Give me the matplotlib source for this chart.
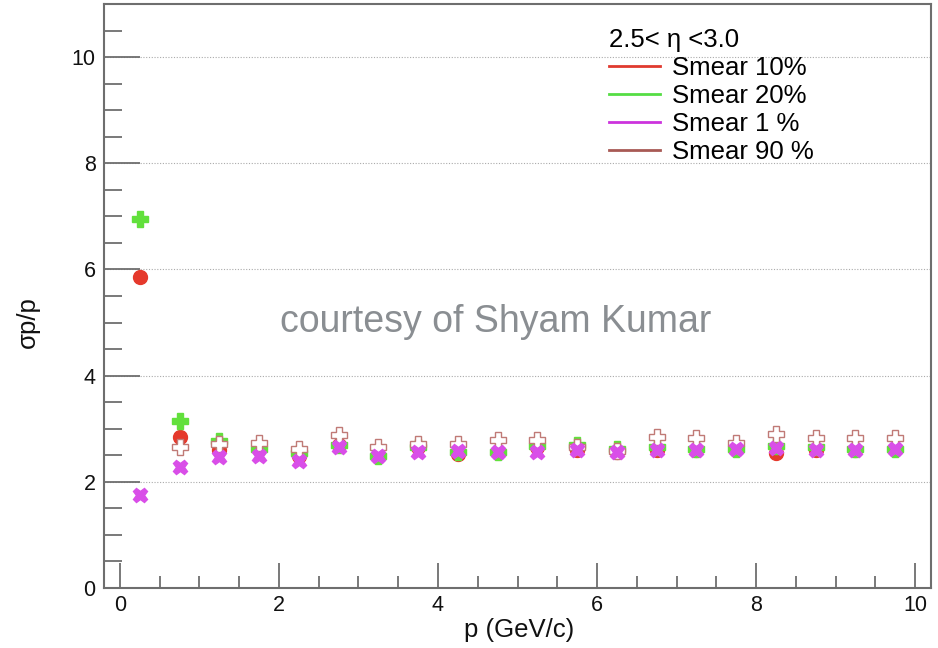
import numpy as np
import matplotlib
matplotlib.use("Agg")
import matplotlib.pyplot as plt
from matplotlib.lines import Line2D
from matplotlib.ticker import MultipleLocator

plt.rcParams['font.family'] = ['Liberation Sans', 'DejaVu Sans']

p = [0.25, 0.75, 1.25, 1.75, 2.25, 2.75, 3.25, 3.75, 4.25, 4.75,
     5.25, 5.75, 6.25, 6.75, 7.25, 7.75, 8.25, 8.75, 9.25, 9.75]
smear10 = [5.86, 2.84, 2.60, 2.62, 2.48, 2.69, 2.48, 2.65, 2.52, 2.57,
           2.66, 2.60, 2.57, 2.59, 2.60, 2.61, 2.54, 2.60, 2.60, 2.61]
smear20 = [6.95, 3.14, 2.76, 2.62, 2.55, 2.69, 2.48, 2.65, 2.56, 2.57,
           2.68, 2.69, 2.62, 2.66, 2.62, 2.62, 2.68, 2.66, 2.62, 2.62]
smear1 = [1.76, 2.28, 2.47, 2.49, 2.40, 2.65, 2.48, 2.57, 2.58, 2.57,
          2.57, 2.60, 2.57, 2.59, 2.60, 2.61, 2.63, 2.60, 2.60, 2.61]
smear90 = [np.nan, 2.66, 2.72, 2.73, 2.62, 2.89, 2.66, 2.71, 2.72, 2.79,
           2.79, 2.65, 2.58, 2.85, 2.83, 2.74, 2.91, 2.83, 2.82, 2.82]

labels = ["Smear 10%", "Smear 20%", "Smear 1 %", "Smear 90 %"]
legend_title = "2.5< η <3.0"

fig = plt.figure(figsize=(9.38, 6.48), dpi=100)
ax = fig.add_axes([104/938, 60/648, (931-104)/938, (588-4)/648])

frame_col = '#6e6e6e'
ax.set_xlim(-0.2, 10.2)
ax.set_ylim(0, 11)
ax.xaxis.set_major_locator(MultipleLocator(2))
ax.xaxis.set_minor_locator(MultipleLocator(0.5))
ax.yaxis.set_major_locator(MultipleLocator(2))
ax.yaxis.set_minor_locator(MultipleLocator(0.5))
ax.tick_params(which='both', direction='in', top=False, right=False,
               color=frame_col, width=1.3, labelsize=15.5, labelcolor='#111111')
ax.tick_params(axis='x', which='major', length=18, pad=5)
ax.tick_params(axis='x', which='minor', length=9)
ax.tick_params(axis='y', which='major', length=26, pad=6)
ax.tick_params(axis='y', which='minor', length=13)
for s in ax.spines.values():
    s.set_color(frame_col)
    s.set_linewidth(1.5)

ax.yaxis.grid(True, which='major', linestyle=(0, (1, 1.5)), color='#aaaaaa', linewidth=0.8)
ax.set_axisbelow(True)

red = '#e5392c'
green = '#62e03c'
magenta = '#d94ee8'
brown = '#c07a76'

ax.plot(p, smear10, linestyle='none', marker='o', markersize=10,
        markerfacecolor=red, markeredgecolor=red, zorder=3)
ax.plot(p, smear20, linestyle='none', marker='P', markersize=11,
        markerfacecolor=green, markeredgecolor=green, zorder=3)
ax.plot(p, smear90, linestyle='none', marker='P', markersize=12,
        markerfacecolor='white', markeredgecolor=brown, markeredgewidth=1.0, zorder=4)
ax.plot(p, smear1, linestyle='none', marker='X', markersize=10.5,
        markerfacecolor=magenta, markeredgecolor=magenta, zorder=5)

handles = [Line2D([], [], color='#e03a2f', lw=2),
           Line2D([], [], color='#55dd44', lw=2),
           Line2D([], [], color='#cc33dd', lw=2),
           Line2D([], [], color='#a85a55', lw=2)]
leg = ax.legend(handles, labels, title=legend_title, loc='upper left',
                bbox_to_anchor=(609/938, 1 - 28/648), bbox_transform=fig.transFigure,
                frameon=False, fontsize=18.5, title_fontsize=18.5, handlelength=2.0,
                handletextpad=0.45, labelspacing=0.16, borderpad=0, borderaxespad=0,
                alignment='left')
leg._legend_box.align = 'left'

ax.set_xlabel("p (GeV/c)", fontsize=18.5, color='#111111')
ax.xaxis.set_label_coords(0.502, -0.052)
ax.set_ylabel("σp/p", fontsize=18.5, color='#111111')
ax.yaxis.set_label_coords(-0.078, 0.455)

fig.text(496/938, 1 - 322/648, "courtesy of Shyam Kumar", fontsize=27,
         color='#8a8e92', ha='center', va='center')

fig.savefig("out.png", dpi=100)
